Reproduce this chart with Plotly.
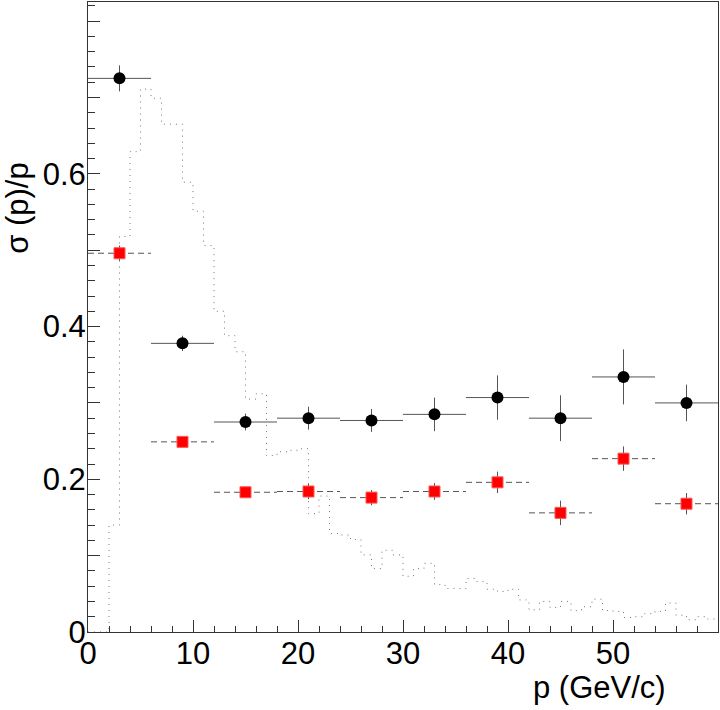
import numpy as np
import plotly.graph_objects as go

# bin centres (GeV/c) and half-width of the 6 GeV bins
p_centres = [3, 9, 15, 21, 27, 33, 39, 45, 51, 57]
p_halfwidth = [3] * 10

# black circles
res_a = [0.725, 0.378, 0.275, 0.280, 0.277, 0.285, 0.307, 0.280, 0.334, 0.300]
res_a_err = [0.017, 0.010, 0.011, 0.015, 0.015, 0.022, 0.029, 0.030, 0.036, 0.024]

# red squares
res_b = [0.496, 0.249, 0.183, 0.184, 0.176, 0.184, 0.196, 0.156, 0.227, 0.168]
res_b_err = [0.010, 0.005, 0.007, 0.010, 0.010, 0.011, 0.014, 0.016, 0.016, 0.014]

# dotted momentum spectrum, 1 GeV bins from 0 to 60
spec_edges = list(range(0, 61))
spec_vals = [
    0.0, 0.0, 0.140, 0.518, 0.629, 0.711, 0.699, 0.665, 0.665, 0.589,
    0.551, 0.506, 0.420, 0.388, 0.367, 0.305, 0.312, 0.231, 0.236, 0.238,
    0.240, 0.155, 0.178, 0.129, 0.127, 0.121, 0.101, 0.083, 0.107, 0.101,
    0.073, 0.083, 0.090, 0.062, 0.057, 0.057, 0.070, 0.066, 0.056, 0.053,
    0.056, 0.042, 0.029, 0.040, 0.032, 0.040, 0.028, 0.033, 0.043, 0.028,
    0.027, 0.019, 0.020, 0.024, 0.027, 0.038, 0.022, 0.016, 0.020, 0.017,
]

y_tickvals = [0, 0.1, 0.2, 0.3, 0.4, 0.5, 0.6, 0.7, 0.8]
y_ticktext = ["0", "", "0.2", "", "0.4", "", "0.6", "", ""]
x_tickvals = [0, 10, 20, 30, 40, 50, 60]
x_ticktext = ["0", "10", "20", "30", "40", "50", ""]

FONT = "Liberation Sans, Arial, sans-serif"
BAR = "#555555"

fig = go.Figure()

# step histogram
fig.add_trace(go.Scatter(
    x=spec_edges,
    y=spec_vals + [spec_vals[-1]],
    mode="lines",
    line=dict(shape="hv", color="#777777", width=1, dash="1px,5px"),
    hoverinfo="skip",
))

# dashed horizontal bars for red points
seg_x, seg_y = [], []
for xc, hw, yv in zip(p_centres, p_halfwidth, res_b):
    seg_x += [xc - hw, xc + hw, None]
    seg_y += [yv, yv, None]
fig.add_trace(go.Scatter(
    x=seg_x, y=seg_y, mode="lines",
    line=dict(color=BAR, width=1, dash="6px,4px"),
    hoverinfo="skip",
))

fig.add_trace(go.Scatter(
    x=p_centres, y=res_b, mode="markers",
    marker=dict(symbol="square", size=11, color="#ff0000",
                line=dict(color="#ff5555", width=1)),
    error_y=dict(type="data", array=res_b_err, color=BAR, thickness=1, width=0),
))

fig.add_trace(go.Scatter(
    x=p_centres, y=res_a, mode="markers",
    marker=dict(symbol="circle", size=12, color="black"),
    error_x=dict(type="data", array=p_halfwidth, color=BAR, thickness=1, width=0),
    error_y=dict(type="data", array=res_a_err, color=BAR, thickness=1, width=0),
))

fig.update_layout(
    width=720, height=710,
    margin=dict(l=88, r=2, t=2, b=78),
    paper_bgcolor="white", plot_bgcolor="white",
    showlegend=False,
    font=dict(family=FONT, size=31, color="black"),
    annotations=[
        dict(text="p (GeV/c)", xref="paper", yref="paper",
             x=0.921, y=-0.088, xanchor="right", yanchor="middle",
             showarrow=False, font=dict(size=31)),
        dict(text="σ (p)/p", xref="paper", yref="paper", textangle=-90,
             x=-0.113, y=0.673, xanchor="center", yanchor="middle",
             showarrow=False, font=dict(size=31)),
    ],
)

fig.update_xaxes(
    range=[0, 60], showgrid=False, zeroline=False, automargin=False,
    showline=True, linecolor="#333333", linewidth=1, mirror=True,
    ticks="inside", ticklen=12, tickcolor="#333333",
    tickvals=x_tickvals, ticktext=x_ticktext, ticklabelstandoff=-6,
    minor=dict(dtick=2, ticks="inside", ticklen=6, tickcolor="#333333"),
)
fig.update_yaxes(
    range=[0, 0.825], showgrid=False, zeroline=False, automargin=False,
    showline=True, linecolor="#333333", linewidth=1, mirror=True,
    ticks="inside", ticklen=12, tickcolor="#333333",
    tickvals=y_tickvals, ticktext=y_ticktext, ticklabelstandoff=-5,
    minor=dict(dtick=0.02, ticks="inside", ticklen=7, tickcolor="#333333"),
)

fig.write_html("out.html", config={"displayModeBar": False},
               post_script="document.body.style.margin='0';")
